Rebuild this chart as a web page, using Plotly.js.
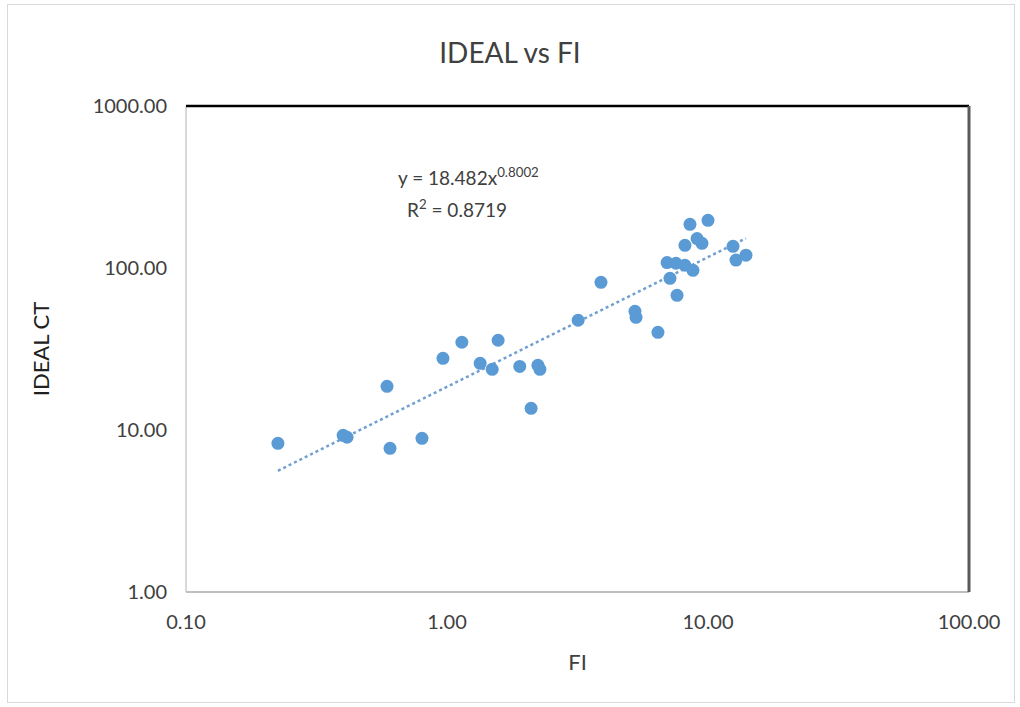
<!DOCTYPE html>
<html>
<head>
<meta charset="utf-8">
<script src="https://cdn.plot.ly/plotly-3.0.1.min.js"></script>
<style>
  html, body { margin: 0; padding: 0; background: #fff; }
  #chart { width: 1020px; height: 707px; }
  #frame { position: absolute; left: 7px; top: 4px; width: 1006px; height: 697px; border: 1px solid #d9d9d9; pointer-events: none; }
</style>
</head>
<body>
<div id="chart"></div>
<div id="frame"></div>
<script>
// Data
const fiValues = [0.225, 0.40, 0.414, 0.589, 0.605, 0.802, 0.965, 1.14, 1.34, 1.49, 1.57, 1.90, 2.10, 2.23, 2.27,
  3.18, 3.89, 5.25, 5.30, 6.43, 6.97, 7.15, 7.61, 7.54, 8.16, 8.76, 8.16, 9.08, 9.48, 8.53, 10.0, 12.47, 12.8, 13.98];
const idealCtValues = [8.28, 9.27, 9.02, 18.6, 7.71, 8.89, 27.7, 34.8, 25.8, 23.7, 35.8, 24.7, 13.6, 25.1, 23.7,
  47.6, 81.6, 54.0, 49.6, 40.1, 108, 86.4, 67.8, 107, 104, 96.8, 138, 152, 142, 186, 197, 136, 112, 120];

// Power trendline coefficients (as displayed)
const trendA = 18.482;
const trendB = 0.8002;
const rSquared = 0.8719;

const xTickVals = [0.1, 1, 10, 100];
const xTickText = ["0.10", "1.00", "10.00", "100.00"];
const yTickVals = [1, 10, 100, 1000];
const yTickText = ["1.00", "10.00", "100.00", "1000.00"];

const minX = Math.min(...fiValues);
const maxX = Math.max(...fiValues);
const trendX = [minX, maxX];
const trendY = trendX.map(x => trendA * Math.pow(x, trendB));

const FONT = "Lato, 'Open Sans', sans-serif";
const TXT = "#404040";

const data = [
  {
    x: trendX, y: trendY, type: "scatter", mode: "lines",
    line: { color: "#6f9fd0", width: 2.5, dash: "dot" },
    hoverinfo: "skip", showlegend: false
  },
  {
    x: fiValues, y: idealCtValues, type: "scatter", mode: "markers",
    marker: { color: "#5b9bd5", size: 13 },
    showlegend: false
  }
];

const layout = {
  width: 1020, height: 707,
  margin: { l: 186, r: 51, t: 106, b: 115 },
  paper_bgcolor: "#fff", plot_bgcolor: "#fff",
  font: { family: FONT, color: TXT },
  title: { text: "IDEAL vs FI", font: { family: FONT, size: 28, color: "#404040" }, x: 0.5, xref: "container", xanchor: "center", y: 0.925, yanchor: "middle" },
  xaxis: {
    type: "log", range: [-1, 2],
    tickvals: xTickVals, ticktext: xTickText,
    showgrid: false, zeroline: false, showline: false,
    ticks: "", ticklabelstandoff: 16,
    tickfont: { family: FONT, size: 20, color: TXT },
    title: { text: "FI", font: { family: FONT, size: 22, color: TXT }, standoff: 22 }
  },
  yaxis: {
    type: "log", range: [0, 3],
    tickvals: yTickVals, ticktext: yTickText,
    showgrid: false, zeroline: false, showline: false,
    ticks: "", ticklabelstandoff: 18,
    tickfont: { family: FONT, size: 20, color: TXT },
    title: { text: "IDEAL CT", font: { family: FONT, size: 22, color: "#202020" }, standoff: 36 }
  },
  shapes: [
    { type: "line", xref: "paper", yref: "paper", x0: 0, x1: 0, y0: 0, y1: 1, line: { color: "#d9d9d9", width: 2 } },
    { type: "line", xref: "paper", yref: "paper", x0: 0, x1: 1, y0: 0, y1: 0, line: { color: "#bfbfbf", width: 2 } },
    { type: "line", xref: "paper", yref: "paper", x0: 0, x1: 1, y0: 1, y1: 1, line: { color: "#000000", width: 2.5 } },
    { type: "line", xref: "paper", yref: "paper", x0: 1, x1: 1, y0: 0, y1: 1, line: { color: "#5a5a5a", width: 3 } }
  ],
  annotations: [
    {
      xref: "x", yref: "y", x: Math.log10(1.21), y: Math.log10(368), xanchor: "center", yanchor: "middle",
      text: "y = " + trendA + "x<sup>" + trendB.toFixed(4) + "</sup>",
      showarrow: false, align: "center",
      font: { family: FONT, size: 19, color: TXT }
    },
    {
      xref: "x", yref: "y", x: Math.log10(1.09), y: Math.log10(233), xanchor: "center", yanchor: "middle",
      text: "R<sup>2</sup> = " + rSquared,
      showarrow: false, align: "center",
      font: { family: FONT, size: 19, color: TXT }
    }
  ]
};

Plotly.newPlot("chart", data, layout, { displayModeBar: false, staticPlot: true });
</script>
</body>
</html>
